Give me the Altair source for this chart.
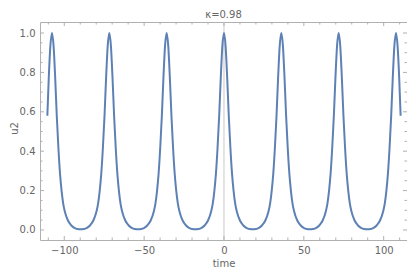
import altair as alt
import pandas as pd

# Curve (time, u2)
time = [
    -110.6, -109.7, -108.7, -107.7,
    -106.7, -105.7, -104.7, -103.7, -102.7, -101.7, -100.7, -99.7, -97.7, -95.7, -93.7, -91.7,
    -89.75,
    -87.8, -85.8, -83.8, -81.8, -79.8, -78.8, -77.8, -76.8, -75.8, -74.8, -73.8, -72.8, -71.8,
    -70.8, -69.8, -68.8, -67.8, -66.8, -65.8, -64.8, -63.8, -61.8, -59.8, -57.8, -55.8,
    -53.85,
    -51.9, -49.9, -47.9, -45.9, -43.9, -42.9, -41.9, -40.9, -39.9, -38.9, -37.9, -36.9, -35.9,
    -34.9, -33.9, -32.9, -31.9, -30.9, -29.9, -28.9, -27.9, -25.9, -23.9, -21.9, -19.9,
    -17.95,
    -16.0, -14.0, -12.0, -10.0, -8.0, -7.0, -6.0, -5.0, -4.0, -3.0, -2.0, -1.0, 0.0,
    1.0, 2.0, 3.0, 4.0, 5.0, 6.0, 7.0, 8.0, 10.0, 12.0, 14.0, 16.0,
    17.95,
    19.9, 21.9, 23.9, 25.9, 27.9, 28.9, 29.9, 30.9, 31.9, 32.9, 33.9, 34.9, 35.9,
    36.9, 37.9, 38.9, 39.9, 40.9, 41.9, 42.9, 43.9, 45.9, 47.9, 49.9, 51.9,
    53.85,
    55.8, 57.8, 59.8, 61.8, 63.8, 64.8, 65.8, 66.8, 67.8, 68.8, 69.8, 70.8, 71.8,
    72.8, 73.8, 74.8, 75.8, 76.8, 77.8, 78.8, 79.8, 81.8, 83.8, 85.8, 87.8,
    89.75,
    91.7, 93.7, 95.7, 97.7, 99.7, 100.7, 101.7, 102.7, 103.7, 104.7, 105.7, 106.7, 107.7,
    108.7, 109.7, 110.6,
]
u2 = [
    0.58, 0.775, 0.935, 1.0,
    0.935, 0.775, 0.58, 0.42, 0.29, 0.20, 0.135, 0.095, 0.048, 0.024, 0.011, 0.005,
    0.0035,
    0.005, 0.011, 0.024, 0.048, 0.095, 0.135, 0.20, 0.29, 0.42, 0.58, 0.775, 0.935, 1.0,
    0.935, 0.775, 0.58, 0.42, 0.29, 0.20, 0.135, 0.095, 0.048, 0.024, 0.011, 0.005,
    0.0035,
    0.005, 0.011, 0.024, 0.048, 0.095, 0.135, 0.20, 0.29, 0.42, 0.58, 0.775, 0.935, 1.0,
    0.935, 0.775, 0.58, 0.42, 0.29, 0.20, 0.135, 0.095, 0.048, 0.024, 0.011, 0.005,
    0.0035,
    0.005, 0.011, 0.024, 0.048, 0.095, 0.135, 0.20, 0.29, 0.42, 0.58, 0.775, 0.935, 1.0,
    0.935, 0.775, 0.58, 0.42, 0.29, 0.20, 0.135, 0.095, 0.048, 0.024, 0.011, 0.005,
    0.0035,
    0.005, 0.011, 0.024, 0.048, 0.095, 0.135, 0.20, 0.29, 0.42, 0.58, 0.775, 0.935, 1.0,
    0.935, 0.775, 0.58, 0.42, 0.29, 0.20, 0.135, 0.095, 0.048, 0.024, 0.011, 0.005,
    0.0035,
    0.005, 0.011, 0.024, 0.048, 0.095, 0.135, 0.20, 0.29, 0.42, 0.58, 0.775, 0.935, 1.0,
    0.935, 0.775, 0.58, 0.42, 0.29, 0.20, 0.135, 0.095, 0.048, 0.024, 0.011, 0.005,
    0.0035,
    0.005, 0.011, 0.024, 0.048, 0.095, 0.135, 0.20, 0.29, 0.42, 0.58, 0.775, 0.935, 1.0,
    0.935, 0.775, 0.58,
]

x_major = [-100, -50, 0, 50, 100]
x_minor = [-110, -90, -80, -70, -60, -40, -30, -20, -10, 10, 20, 30, 40, 60, 70, 80, 90, 110]
y_major = [0.0, 0.2, 0.4, 0.6, 0.8, 1.0]
y_minor = [0.05, 0.1, 0.15, 0.25, 0.3, 0.35, 0.45, 0.5, 0.55, 0.65, 0.7, 0.75, 0.85, 0.9, 0.95]
zero_line = [0]

W, H = 367, 218
FRAME = "#b0b0b0"
TXT = "#666666"
FONT = "DejaVu Sans"

xs = alt.Scale(domain=[-115.2, 114.6], nice=False, zero=False)
ys = alt.Scale(domain=[-0.051, 1.056], nice=False, zero=False)

xaxis = alt.Axis(
    values=x_major, format="d", ticks=False, domain=False, grid=False,
    labelColor=TXT, labelFontSize=10, labelFont=FONT, labelPadding=5,
    title="time", titleColor=TXT, titleFontSize=10, titleFont=FONT,
    titleFontWeight="normal", titlePadding=3)
yaxis = alt.Axis(
    values=y_major, format=".1f", ticks=False, domain=False, grid=False,
    labelColor=TXT, labelFontSize=10, labelFont=FONT, labelPadding=5,
    title="u2", titleColor=TXT, titleFontSize=10, titleFont=FONT,
    titleFontWeight="normal", titleAngle=270, titleX=-26, titleY=106,
    titleAlign="center", titleBaseline="middle")

X = alt.X("time:Q", scale=xs, axis=xaxis, title="time")
Y = alt.Y("u2:Q", scale=ys, axis=yaxis, title="u2")

df = pd.DataFrame({"time": time, "u2": u2})

curve = alt.Chart(df).mark_line(
    color="#5E81B5", strokeWidth=2, interpolate="monotone", clip=True
).encode(x=X, y=Y)

zline = alt.Chart(pd.DataFrame({"time": zero_line})).mark_rule(
    color="#c8c8c8", strokeWidth=1
).encode(x=X)


def xticks(vals, length):
    d = pd.DataFrame({"time": vals})
    bot = alt.Chart(d).mark_rule(color=FRAME, strokeWidth=1).encode(
        x=X, y=alt.value(H), y2=alt.value(H - length))
    top = alt.Chart(d).mark_rule(color=FRAME, strokeWidth=1).encode(
        x=X, y=alt.value(0), y2=alt.value(length))
    return [bot, top]


def yticks(vals, length):
    d = pd.DataFrame({"u2": vals})
    left = alt.Chart(d).mark_rule(color=FRAME, strokeWidth=1).encode(
        y=Y, x=alt.value(0), x2=alt.value(length))
    right = alt.Chart(d).mark_rule(color=FRAME, strokeWidth=1).encode(
        y=Y, x=alt.value(W), x2=alt.value(W - length))
    return [left, right]


layers = [zline] + xticks(x_major, 4) + xticks(x_minor, 2.5) + \
    yticks(y_major, 4) + yticks(y_minor, 2.5) + [curve]

chart = alt.layer(*layers).properties(
    width=W, height=H,
    title=alt.TitleParams("κ=0.98", fontSize=10, color=TXT, font=FONT,
                          fontWeight="normal", anchor="middle", offset=2),
    autosize=alt.AutoSizeParams(type="none"),
    padding={"left": 32, "top": 14, "right": 0, "bottom": 29},
).configure_view(stroke=FRAME, strokeWidth=1)

chart.save("out.html", embed_options={"renderer": "svg", "actions": False})
